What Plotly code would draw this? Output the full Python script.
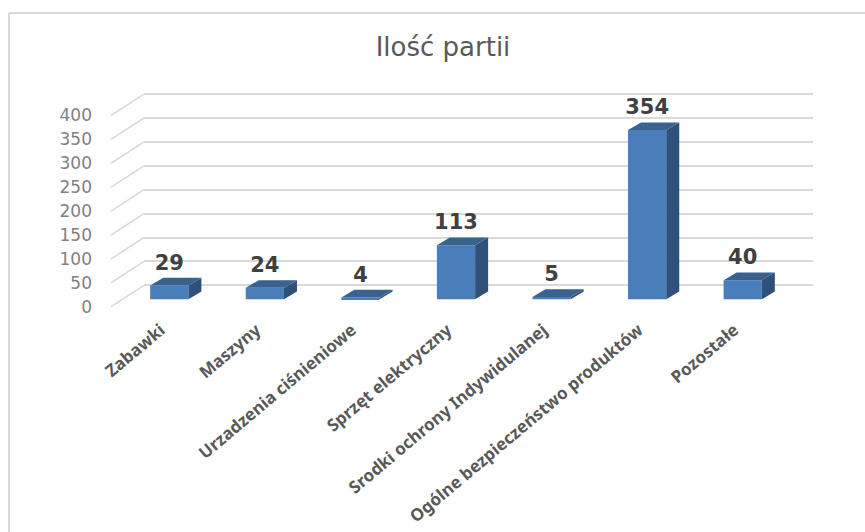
import plotly.graph_objects as go

categories = ["Zabawki", "Maszyny", "Urzadzenia ciśnieniowe", "Sprzęt elektryczny",
              "Srodki ochrony Indywidulanej", "Ogólne bezpieczeństwo produktów", "Pozostałe"]
values = [29, 24, 4, 113, 5, 354, 40]
y_ticks = [0, 50, 100, 150, 200, 250, 300, 350, 400]

W, H = 865, 532
PX_PER_UNIT = 0.478   # pixels per value unit
CAT_PX = 95.57        # pixels per category
TOP, BOTTOM = 80, 316  # pixel band of the y axes
LEFT_FRONT, LEFT_BACK, RIGHT = 111, 144, 813


def y_range(zero_px):
    # axis range that puts value 0 on the given pixel row
    return [(zero_px - BOTTOM) / PX_PER_UNIT, (zero_px - TOP) / PX_PER_UNIT]


y_domain = [(H - BOTTOM) / H, (H - TOP) / H]
idx = list(range(len(values)))
bar_x = [i + 0.11 for i in idx]
half = 0.2
depth_x = 13 / CAT_PX
depth_y = 7.7 / PX_PER_UNIT
wall_x = 33 / CAT_PX
wall_y = 21.4 / PX_PER_UNIT
label_lift = 6

fig = go.Figure()

# empty trace so the back wall subplot (gridlines) gets drawn
fig.add_trace(go.Scatter(x=[0], y=[0], mode="none", xaxis="x", yaxis="y", hoverinfo="skip"))

# floor/side wall diagonals, front plane
diag_x, diag_y = [], []
for t in y_ticks:
    diag_x += [-0.5, -0.5 + wall_x, None]
    diag_y += [t, t + wall_y, None]
fig.add_trace(go.Scatter(x=diag_x, y=diag_y, mode="lines", xaxis="x2", yaxis="y2",
                         line=dict(color="#d9d9d9", width=1.6), hoverinfo="skip"))

# front of the bars
fig.add_trace(go.Bar(x=bar_x, y=values, width=2 * half, xaxis="x2", yaxis="y3",
                     marker=dict(color="#4a7ebb", line=dict(width=0))))

# side and top of the bars
side_x, side_y, top_x, top_y = [], [], [], []
for x, v in zip(bar_x, values):
    side_x += [x + half, x + half + depth_x, x + half + depth_x, x + half, x + half, None]
    side_y += [0, depth_y, v + depth_y, v, 0, None]
    top_x += [x - half, x + half, x + half + depth_x, x - half + depth_x, x - half, None]
    top_y += [v, v, v + depth_y, v + depth_y, v, None]
fig.add_trace(go.Scatter(x=side_x, y=side_y, mode="lines", fill="toself", xaxis="x2", yaxis="y3",
                         fillcolor="#2f5078", line=dict(width=0), hoverinfo="skip"))
fig.add_trace(go.Scatter(x=top_x, y=top_y, mode="lines", fill="toself", xaxis="x2", yaxis="y3",
                         fillcolor="#3a628f", line=dict(width=0), hoverinfo="skip"))

# value labels sit above the back edge of the top face
fig.add_trace(go.Scatter(x=bar_x, y=[v + depth_y + label_lift for v in values], mode="text",
                         xaxis="x2", yaxis="y3",
                         text=[str(v) for v in values], textposition="top center",
                         textfont=dict(family="DejaVu Sans", size=21, color="#404040", weight="bold"),
                         hoverinfo="skip"))

fig.update_layout(
    width=W, height=H,
    margin=dict(l=0, r=0, t=0, b=0),
    paper_bgcolor="white",
    plot_bgcolor="rgba(0,0,0,0)",
    showlegend=False,
    title=dict(text="Ilość partii", x=443 / W, xanchor="center", y=1 - 47 / H, yanchor="middle",
               font=dict(family="DejaVu Sans", size=26, color="#595959")),
    # back wall: gridlines only
    xaxis=dict(domain=[LEFT_BACK / W, RIGHT / W], range=[0, 1], showticklabels=False, showgrid=False,
               zeroline=False, showline=False, ticks="", automargin=False),
    yaxis=dict(domain=y_domain, range=y_range(285.3), tickmode="array", tickvals=y_ticks,
               showgrid=True, gridcolor="#d9d9d9", gridwidth=2, showticklabels=False,
               zeroline=False, showline=False, ticks="", automargin=False),
    # front plane: the axis labels
    xaxis2=dict(domain=[LEFT_FRONT / W, RIGHT / W], range=[-0.5, (RIGHT - LEFT_FRONT) / CAT_PX - 0.5],
                anchor="y2", tickmode="array", tickvals=idx, ticktext=categories, tickangle=-40,
                ticklabelshift=2, showgrid=False, zeroline=False, showline=False, ticks="",
                automargin=False,
                tickfont=dict(family="Noto Sans", size=17, color="#595959", weight="bold")),
    yaxis2=dict(domain=y_domain, range=y_range(306.7), anchor="x2", tickmode="array", tickvals=y_ticks,
                ticktext=[str(t) for t in y_ticks], showgrid=False, zeroline=False, showline=False,
                ticks="", ticklabelstandoff=18, automargin=False,
                tickfont=dict(family="DejaVu Sans", size=17, color="#7f7f7f")),
    # bars stand between the two planes
    yaxis3=dict(range=y_range(299.3), overlaying="y2", anchor="x2", visible=False, automargin=False),
    shapes=[
        dict(type="line", xref="paper", yref="paper", x0=9 / W, x1=1, y0=1 - 13 / H, y1=1 - 13 / H,
             line=dict(color="#d9d9d9", width=2)),
        dict(type="line", xref="paper", yref="paper", x0=9 / W, x1=9 / W, y0=0, y1=1 - 13 / H,
             line=dict(color="#d9d9d9", width=2)),
    ],
)

fig.write_html("out.html", config={"displayModeBar": False},
               post_script="document.body.style.margin='0';")
